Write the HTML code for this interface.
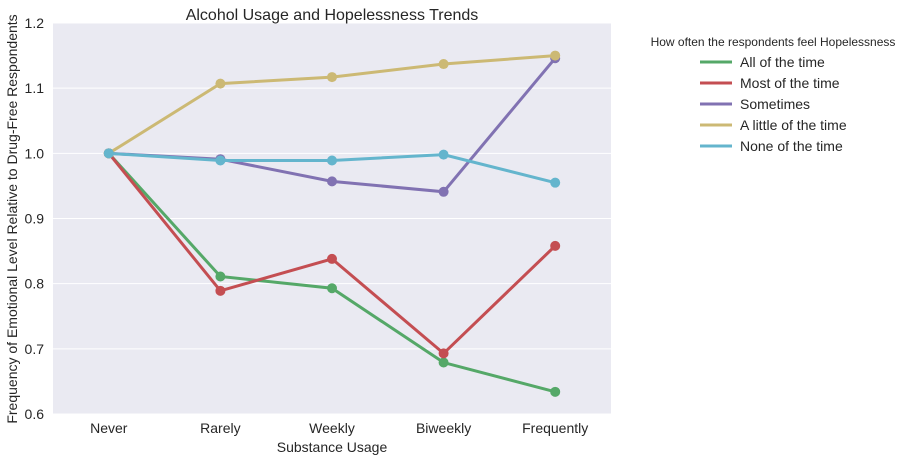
<!DOCTYPE html>
<html><head><meta charset="utf-8"><style>
body{margin:0;background:#fff;}
svg{font-family:"Liberation Sans",sans-serif;display:block}
</style></head><body>
<svg id="chart" width="908" height="462">
<rect x="53" y="23" width="558" height="391" fill="#eaeaf2"/>
<g id="grid"></g><g id="ticks"></g><g id="series"></g><g id="legend"></g>
<text x="332" y="20" text-anchor="middle" font-size="16" fill="#262626">Alcohol Usage and Hopelessness Trends</text>
<text x="332" y="452" text-anchor="middle" font-size="14" fill="#262626">Substance Usage</text>
<text transform="translate(17,219) rotate(-90)" text-anchor="middle" font-size="14" fill="#262626">Frequency of Emotional Level Relative to Drug-Free Respondents</text>
</svg>
<script>
const categories=["Never","Rarely","Weekly","Biweekly","Frequently"];
const seriesNames=["All of the time","Most of the time","Sometimes","A little of the time","None of the time"];
const allOfTime=[1.0,0.811,0.793,0.679,0.634];
const mostOfTime=[1.0,0.789,0.838,0.693,0.858];
const sometimes=[1.0,0.991,0.957,0.941,1.146];
const littleOfTime=[1.0,1.107,1.117,1.137,1.150];
const noneOfTime=[1.0,0.989,0.989,0.998,0.955];
const yTicks=[0.6,0.7,0.8,0.9,1.0,1.1,1.2];
const colors=["#55a868","#c44e52","#8172b2","#ccb974","#64b5cd"];
const allSeries=[allOfTime,mostOfTime,sometimes,littleOfTime,noneOfTime];
const NS="http://www.w3.org/2000/svg";
const X0=53,W=558,Y0=23,H=391,ymin=0.6,ymax=1.2;
const xs=i=>X0+W/categories.length*(i+0.5);
const ys=v=>Y0+H*(ymax-v)/(ymax-ymin);
function mk(tag,attrs,parent,text){const e=document.createElementNS(NS,tag);for(const k in attrs)e.setAttribute(k,attrs[k]);if(text!==undefined)e.textContent=text;parent.appendChild(e);return e;}
const grid=document.getElementById('grid'),ticks=document.getElementById('ticks'),ser=document.getElementById('series'),leg=document.getElementById('legend');
yTicks.forEach(t=>{
 const l=mk('line',{x1:X0,x2:X0+W,y1:ys(t),y2:ys(t),stroke:'#fff','stroke-width':1},grid);
 
 
 const tx=mk('text',{x:X0-9,y:ys(t)+5,'text-anchor':'end','font-size':14,fill:'#262626'},ticks,t.toFixed(1));
 
 
});
categories.forEach((c,i)=>{
 const tx=mk('text',{x:xs(i),y:433,'text-anchor':'middle','font-size':14,fill:'#262626'},ticks,c);
 
 
});
allSeries.forEach((s,k)=>{
 const g=mk('g',{},ser);
 
 
 const p=mk('polyline',{points:s.map((v,i)=>xs(i)+','+ys(v)).join(' '),fill:'none',stroke:colors[k],'stroke-width':3},g);
 
 
 s.forEach((v,i)=>{
  const c=mk('circle',{cx:xs(i),cy:ys(v),r:5,fill:colors[k]},g);
  
  
 });
});
const lt=mk('text',{x:773,y:46,'text-anchor':'middle','font-size':12,fill:'#262626'},leg,'How often the respondents feel Hopelessness');


seriesNames.forEach((n,k)=>{
 const y=62+k*21;
 const g=mk('g',{},leg);
 
 
 mk('line',{x1:700,x2:732,y1:y,y2:y,stroke:colors[k],'stroke-width':3},g);
 mk('text',{x:740,y:y+5,'font-size':14,fill:'#262626'},g,n);
});
</script>
</body></html>
